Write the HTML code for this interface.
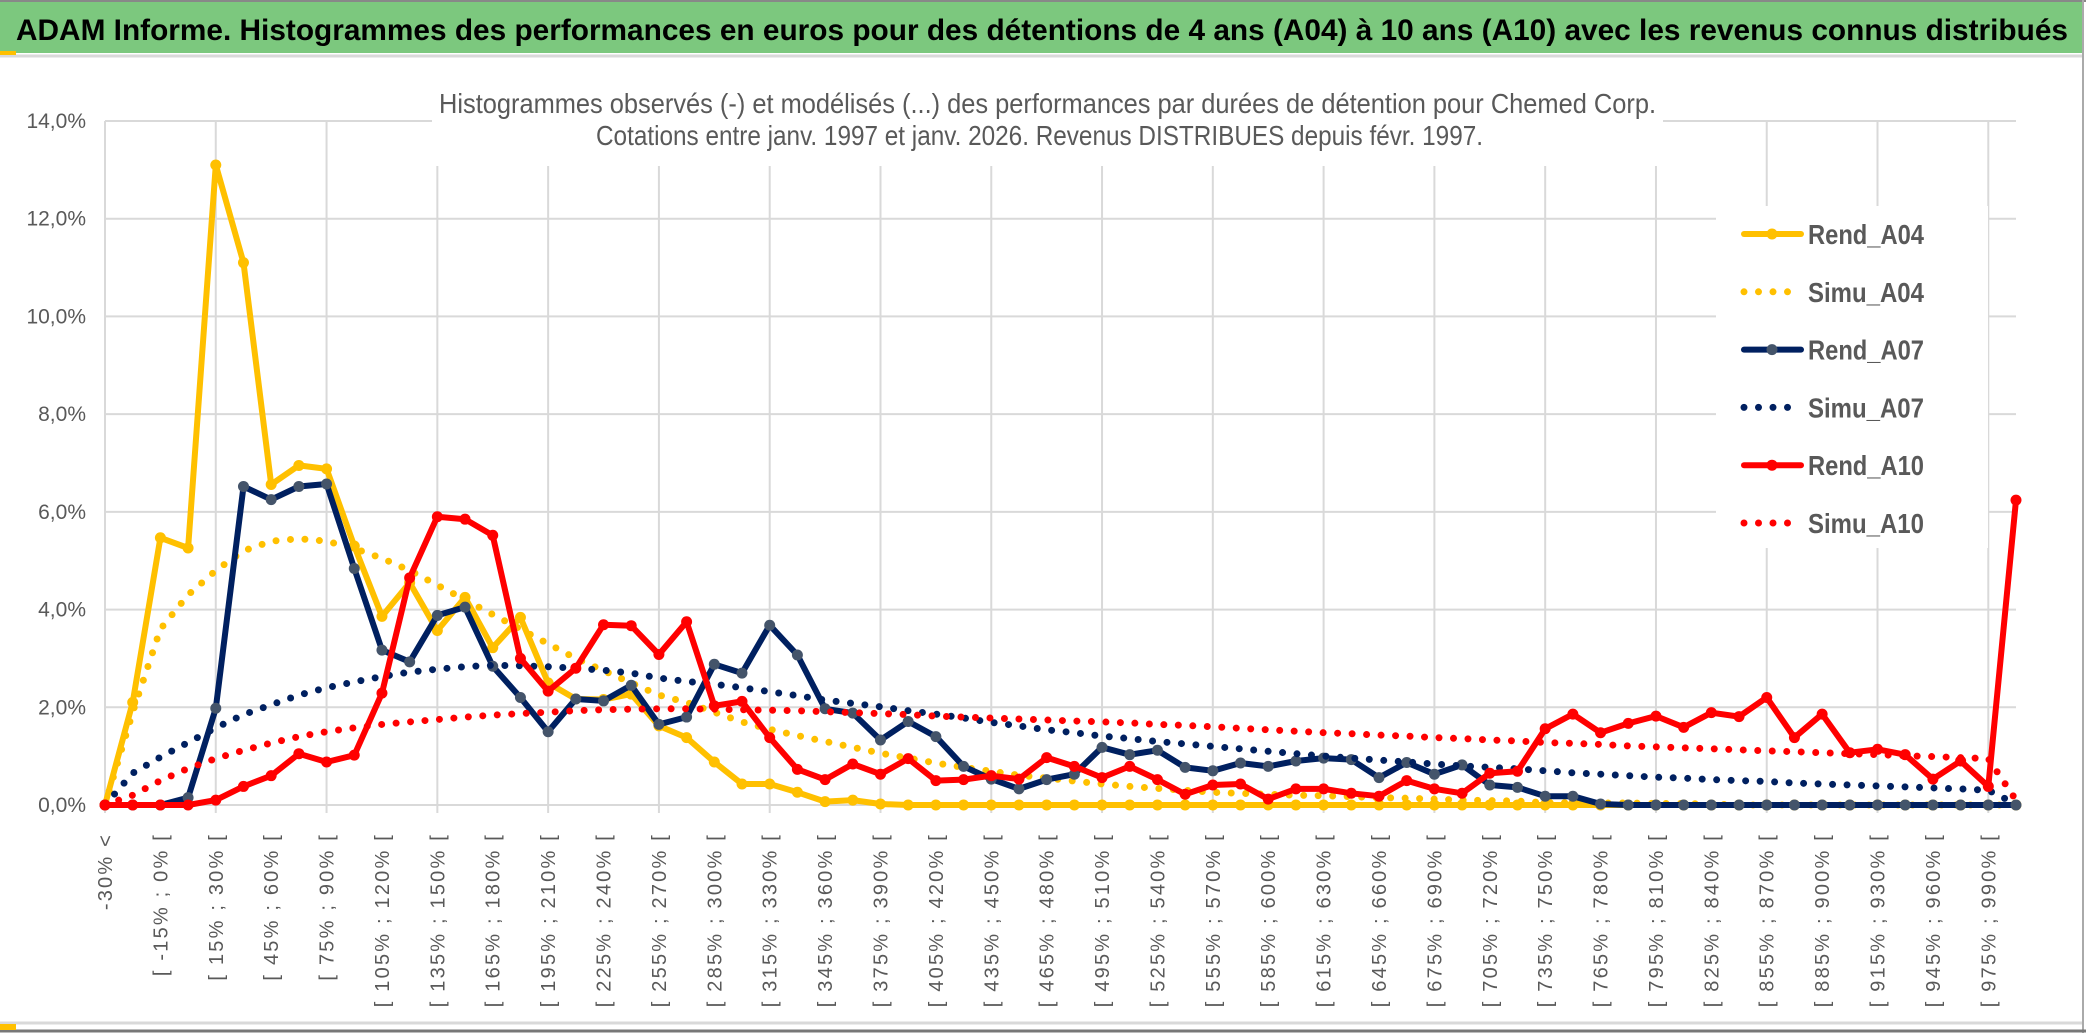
<!DOCTYPE html>
<html><head><meta charset="utf-8"><style>
html,body{margin:0;padding:0;background:#fff;}
svg{display:block;font-family:"Liberation Sans",sans-serif;}
</style></head><body>
<svg id="chart" width="2086" height="1033" viewBox="0 0 2086 1033" xmlns="http://www.w3.org/2000/svg">
<rect x="0" y="0" width="2086" height="1033" fill="#fff"/>
<rect x="0" y="2" width="2082" height="51" fill="#7CC87E"/>
<line x1="0" y1="1" x2="2086" y2="1" stroke="#888" stroke-width="2"/>
<line x1="0" y1="56" x2="2082" y2="56" stroke="#d9d9d9" stroke-width="3"/>
<rect x="0" y="51" width="16" height="4" fill="#FFC000"/>
<line x1="2083" y1="0" x2="2083" y2="1033" stroke="#aaa" stroke-width="2"/>
<line x1="0" y1="1023" x2="2082" y2="1023" stroke="#d9d9d9" stroke-width="3"/>
<line x1="0" y1="1031" x2="2086" y2="1031" stroke="#777" stroke-width="3"/>
<rect x="0" y="1024" width="16" height="6" fill="#FFC000"/>
<text x="16" y="40" font-size="30" font-weight="bold" fill="#000" textLength="2052" lengthAdjust="spacingAndGlyphs">ADAM Informe. Histogrammes des performances en euros pour des détentions de 4 ans (A04) à 10 ans (A10) avec les revenus connus distribués</text>
<g id="grid"></g>
<rect x="432" y="80" width="1231" height="86" fill="#fff"/>
<text x="439" y="113" font-size="28" fill="#595959" textLength="1217" lengthAdjust="spacingAndGlyphs">Histogrammes observés (-) et modélisés (...) des performances par durées de détention pour Chemed Corp.</text>
<text x="596" y="145" font-size="28" fill="#595959" textLength="887" lengthAdjust="spacingAndGlyphs">Cotations entre janv. 1997 et janv. 2026. Revenus DISTRIBUES depuis févr. 1997.</text>
<rect x="1716" y="206" width="272" height="342" fill="#fff"/>
<g id="yaxis"></g>
<g id="xaxis"></g>
<g id="series"></g>
<g id="legend"></g>
</svg>
<script>
const categories = [];
categories.push('-30% <');
for (let a = -30; a <= 990; a += 15) categories.push('[ ' + a + '% ; ' + (a + 15) + '% [');
const yTicks = [0, 2, 4, 6, 8, 10, 12, 14];
const yTickLabels = ['0,0%', '2,0%', '4,0%', '6,0%', '8,0%', '10,0%', '12,0%', '14,0%'];
const rendA04 = [0,2.1,5.47,5.26,13.1,11.1,6.56,6.95,6.88,5.3,3.86,4.55,3.57,4.25,3.22,3.84,2.5,2.17,2.16,2.27,1.62,1.38,0.88,0.43,0.43,0.26,0.07,0.1,0.02,0,0,0,0,0,0,0,0,0,0,0,0,0,0,0,0,0,0,0,0,0,0,0,0,0,0,0,0,0,0,0,0,0,0,0,0,0,0,0,0,0];
const simuA04 = [0,1.9,3.6,4.3,4.8,5.2,5.4,5.45,5.4,5.25,5.05,4.8,4.5,4.2,3.9,3.6,3.3,3.0,2.75,2.5,2.25,2.1,1.9,1.7,1.55,1.42,1.3,1.18,1.06,0.96,0.86,0.77,0.69,0.61,0.55,0.49,0.43,0.38,0.34,0.3,0.26,0.24,0.22,0.2,0.19,0.17,0.15,0.14,0.12,0.1,0.09,0.08,0.05,0.05,0.04,0.04,0.03,0.03,0.02,0,0,0,0,0,0,0,0,0,0,0];
const rendA07 = [0,0,0,0.15,1.98,6.52,6.25,6.52,6.57,4.84,3.17,2.93,3.88,4.05,2.84,2.2,1.5,2.17,2.13,2.45,1.65,1.8,2.88,2.7,3.68,3.07,1.97,1.88,1.33,1.71,1.4,0.79,0.53,0.33,0.52,0.63,1.18,1.03,1.12,0.77,0.7,0.86,0.79,0.9,0.96,0.93,0.56,0.87,0.63,0.82,0.41,0.36,0.18,0.18,0.02,0,0,0,0,0,0,0,0,0,0,0,0,0,0,0];
const simuA07 = [0,0.65,0.98,1.28,1.58,1.85,2.05,2.25,2.4,2.52,2.63,2.72,2.78,2.83,2.86,2.85,2.83,2.8,2.76,2.7,2.6,2.53,2.47,2.4,2.32,2.24,2.15,2.08,2.01,1.93,1.86,1.78,1.69,1.62,1.54,1.48,1.41,1.36,1.3,1.25,1.2,1.15,1.1,1.05,1.0,0.96,0.92,0.88,0.84,0.8,0.77,0.74,0.7,0.66,0.63,0.6,0.57,0.55,0.52,0.5,0.48,0.45,0.43,0.41,0.39,0.37,0.35,0.33,0.3,0.02];
const rendA10 = [0,0,0,0,0.1,0.38,0.6,1.05,0.88,1.02,2.29,4.65,5.9,5.85,5.52,3.0,2.33,2.8,3.69,3.67,3.08,3.75,2.03,2.12,1.38,0.73,0.52,0.84,0.63,0.95,0.5,0.52,0.6,0.53,0.97,0.79,0.56,0.79,0.52,0.22,0.41,0.43,0.12,0.33,0.33,0.24,0.18,0.5,0.33,0.24,0.65,0.69,1.56,1.86,1.48,1.67,1.82,1.59,1.89,1.81,2.2,1.38,1.86,1.07,1.14,1.03,0.53,0.9,0.38,6.24];
const simuA10 = [0,0.2,0.5,0.75,0.95,1.12,1.27,1.4,1.5,1.58,1.65,1.7,1.75,1.8,1.84,1.87,1.9,1.93,1.95,1.96,1.97,1.97,1.96,1.95,1.94,1.93,1.91,1.89,1.87,1.85,1.82,1.8,1.78,1.76,1.74,1.72,1.7,1.68,1.65,1.63,1.6,1.57,1.54,1.51,1.48,1.46,1.43,1.41,1.38,1.36,1.33,1.31,1.28,1.26,1.24,1.21,1.19,1.17,1.15,1.13,1.11,1.09,1.07,1.05,1.03,1.01,0.99,0.97,0.95,0.1];

const NS = 'http://www.w3.org/2000/svg';
const X0 = 105, X1 = 2016, Y0 = 805, Y1 = 121, YMAX = 14;
function xPos(i) { return X0 + i * (X1 - X0) / (categories.length - 1); }
function yPos(v) { return Y0 - v * (Y0 - Y1) / YMAX; }
function mk(tag, attrs, parent) {
  const e = document.createElementNS(NS, tag);
  for (const k in attrs) e.setAttribute(k, attrs[k]);
  parent.appendChild(e);
  return e;
}
const grid = document.getElementById('grid');
yTicks.forEach(function (t) {
  const l = mk('line', {x1: X0, x2: X1, y1: yPos(t), y2: yPos(t), stroke: '#d9d9d9', 'stroke-width': 2}, grid);
  
  
});
for (let i = 0; i < categories.length; i += 4) {
  const l = mk('line', {x1: xPos(i), x2: xPos(i), y1: Y1, y2: Y0 + 8, stroke: '#d9d9d9', 'stroke-width': 2}, grid);
  
  
}
const yaxis = document.getElementById('yaxis');
yTicks.forEach(function (t, k) {
  const tx = mk('text', {x: 86, y: yPos(t) + 7, 'text-anchor': 'end', 'font-size': 21, fill: '#595959'}, yaxis);
  tx.textContent = yTickLabels[k];
  
  
});
const xaxis = document.getElementById('xaxis');
for (let i = 0; i < categories.length; i += 2) {
  const x = xPos(i) + 7;
  const tx = mk('text', {transform: 'translate(' + x + ',833) rotate(-90)', 'text-anchor': 'end', 'font-size': 20, 'letter-spacing': 2.2, fill: '#595959'}, xaxis);
  tx.textContent = categories[i];
  
  
}
const series = document.getElementById('series');
function drawRend(vals, color, markerColor, name) {
  const g = mk('g', {}, series);
  
  
  const pts = vals.map(function (v, i) { return xPos(i).toFixed(1) + ',' + yPos(v).toFixed(1); }).join(' ');
  const pl = mk('polyline', {points: pts, fill: 'none', stroke: color, 'stroke-width': 6, 'stroke-linejoin': 'round', 'stroke-linecap': 'round'}, g);
  
  
  vals.forEach(function (v, i) {
    const c = mk('circle', {cx: xPos(i), cy: yPos(v), r: 5.5, fill: markerColor}, g);
    
    
  });
}
function drawSimu(vals, color, name) {
  const pts = vals.map(function (v, i) { return xPos(i).toFixed(1) + ',' + yPos(v).toFixed(1); }).join(' ');
  const pl = mk('polyline', {points: pts, fill: 'none', stroke: color, 'stroke-width': 7, 'stroke-dasharray': '0 14.5', 'stroke-linecap': 'round', 'stroke-linejoin': 'round'}, series);
  
  
}
drawRend(rendA04, '#FFC000', '#FFC000', 'rend-a04');
drawSimu(simuA04, '#FFC000', 'simu-a04');
drawRend(rendA07, '#002060', '#44546A', 'rend-a07');
drawSimu(simuA07, '#002060', 'simu-a07');
drawRend(rendA10, '#FF0000', '#FF0000', 'rend-a10');
drawSimu(simuA10, '#FF0000', 'simu-a10');

const legendNames = ['Rend_A04', 'Simu_A04', 'Rend_A07', 'Simu_A07', 'Rend_A10', 'Simu_A10'];
const legendColors = ['#FFC000', '#FFC000', '#002060', '#002060', '#FF0000', '#FF0000'];
const legendMarkers = ['#FFC000', null, '#44546A', null, '#FF0000', null];
const legend = document.getElementById('legend');
legendNames.forEach(function (n, k) {
  const y = 234 + k * 57.8;
  const g = mk('g', {}, legend);
  
  
  if (legendMarkers[k]) {
    mk('line', {x1: 1744, x2: 1801, y1: y, y2: y, stroke: legendColors[k], 'stroke-width': 6, 'stroke-linecap': 'round'}, g);
    mk('circle', {cx: 1772, cy: y, r: 5.5, fill: legendMarkers[k]}, g);
  } else {
    mk('line', {x1: 1744, x2: 1801, y1: y, y2: y, stroke: legendColors[k], 'stroke-width': 7, 'stroke-dasharray': '0 14.5', 'stroke-linecap': 'round'}, g);
  }
  const t = mk('text', {x: 1808, y: y + 10, 'font-size': 28, 'font-weight': 'bold', fill: '#595959', textLength: 116, lengthAdjust: 'spacingAndGlyphs'}, g);
  t.textContent = n;
});
</script>
</body></html>
